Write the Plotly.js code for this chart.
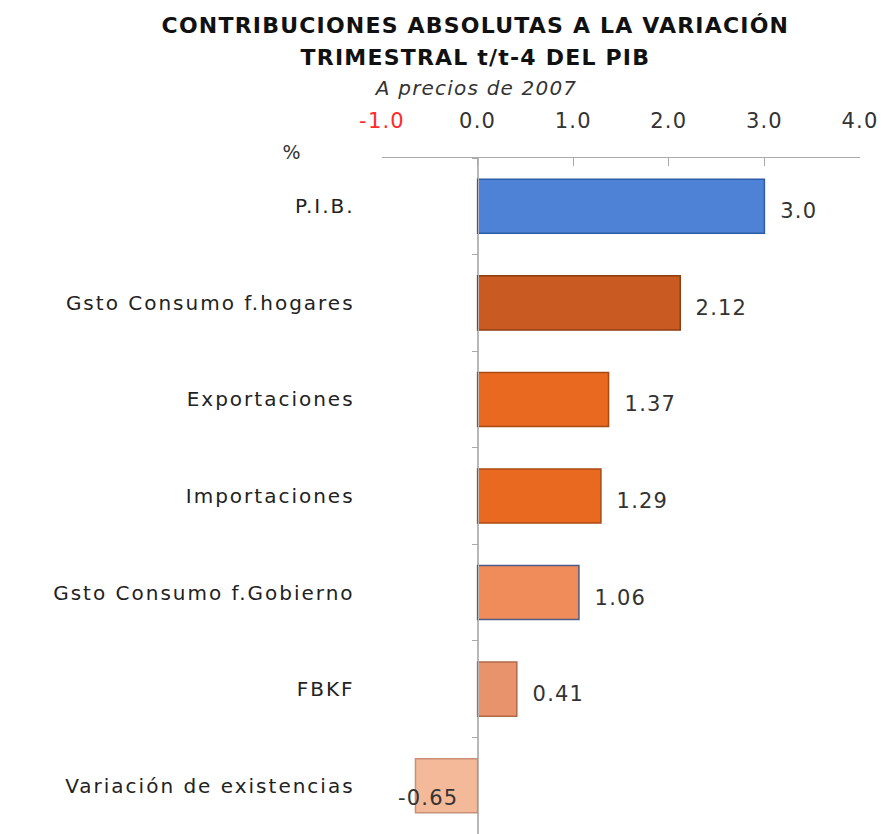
<!DOCTYPE html>
<html><head><meta charset="utf-8">
<script src="https://cdn.plot.ly/plotly-3.0.1.min.js"></script>
<style>
body{margin:0;background:#fff}#c{width:883px;height:834px}
#c text{letter-spacing:1.2px}
#c .ytick text{letter-spacing:2px}
</style>
</head><body><div id="c"></div>
<script>
const categories = ["P.I.B.", "Gsto Consumo f.hogares", "Exportaciones", "Importaciones", "Gsto Consumo f.Gobierno", "FBKF", "Variación de existencias"];
const values = [3.0, 2.12, 1.37, 1.29, 1.06, 0.41, -0.65];
const valueLabels = ["3.0", "2.12", "1.37", "1.29", "1.06", "0.41", "-0.65"];
const tickVals = [-1, 0, 1, 2, 3, 4];
const tickText = ["-1.0", "0.0", "1.0", "2.0", "3.0", "4.0"];
const barColors = ["#4d82d6", "#c95a22", "#e8691f", "#e8691f", "#f08c5a", "#e8936c", "#f4b999"];
const borderColors = ["#2e5da8", "#8e3c12", "#a84a14", "#a84a14", "#4d5d85", "#b06a48", "#c99078"];

const font = "'DejaVu Sans', sans-serif";
const W = 883, H = 834, L = 382, R = 23, T = 158, B = 0;
const pw = W - L - R, ph = H - T - B;
const px = x => (x - L) / pw;          // page px -> paper x
const py = y => (H - B - y) / ph;      // page px -> paper y

const trace = {
  type: "bar", orientation: "h", x: values, y: categories, width: 0.56,
  marker: {color: barColors, line: {color: borderColors, width: 1.5}},
  hoverinfo: "skip"
};
const annotations = values.map((v, i) => ({
  x: v, y: categories[i], xref: "x", yref: "y",
  text: valueLabels[i], showarrow: false,
  xanchor: "left", xshift: v >= 0 ? 16 : -16, yshift: v >= 0 ? -5 : -12,
  font: {family: font, size: 21, color: "#333"}
}));
annotations.push({xref: "paper", yref: "paper", x: px(475), y: py(26), xanchor: "center", yanchor: "middle",
  text: "<b>CONTRIBUCIONES ABSOLUTAS A LA VARIACIÓN</b>", showarrow: false, font: {family: font, size: 22, color: "#111"}});
annotations.push({xref: "paper", yref: "paper", x: px(475), y: py(58), xanchor: "center", yanchor: "middle",
  text: "<b>TRIMESTRAL t/t-4 DEL PIB</b>", showarrow: false, font: {family: font, size: 22, color: "#111"}});
annotations.push({xref: "paper", yref: "paper", x: px(475), y: py(88), xanchor: "center", yanchor: "middle",
  text: "<i>A precios de 2007</i>", showarrow: false, font: {family: font, size: 20, color: "#333"}});
annotations.push({xref: "paper", yref: "paper", x: px(292), y: py(152), xanchor: "center", yanchor: "middle",
  text: "%", showarrow: false, font: {family: font, size: 19, color: "#333"}});

const layout = {
  width: W, height: H,
  margin: {l: L, r: R, t: T, b: B},
  paper_bgcolor: "#fff", plot_bgcolor: "#fff",
  showlegend: false,
  xaxis: {side: "top", range: [-1, 4], tickvals: tickVals,
    ticktext: tickText.map((t, i) => tickVals[i] < 0 ? '<span style="color:#ff2a2a">' + t + '</span>' : t),
    ticks: "inside", ticklen: 8, tickcolor: "#aaa", showline: true, linecolor: "#aaa", linewidth: 1.5,
    showgrid: false, zeroline: true, zerolinecolor: "#b8b8b8", zerolinewidth: 1.5,
    ticklabelstandoff: 20,
    tickfont: {family: font, size: 21, color: "#333"}, fixedrange: true},
  yaxis: {type: "category", categoryarray: categories, range: [6.5, -0.5],
    anchor: "free", position: 0.2, showline: true, linecolor: "#b8b8b8", linewidth: 1.5,
    ticks: "outside", ticklen: 6, tickcolor: "#aaa", tickson: "boundaries",
    showgrid: false, zeroline: false, automargin: false, ticklabelstandoff: 119,
    tickfont: {family: font, size: 20, color: "#222"}, fixedrange: true},
  annotations: annotations
};
Plotly.newPlot("c", [trace], layout, {displayModeBar: false, staticPlot: true});
</script></body></html>
